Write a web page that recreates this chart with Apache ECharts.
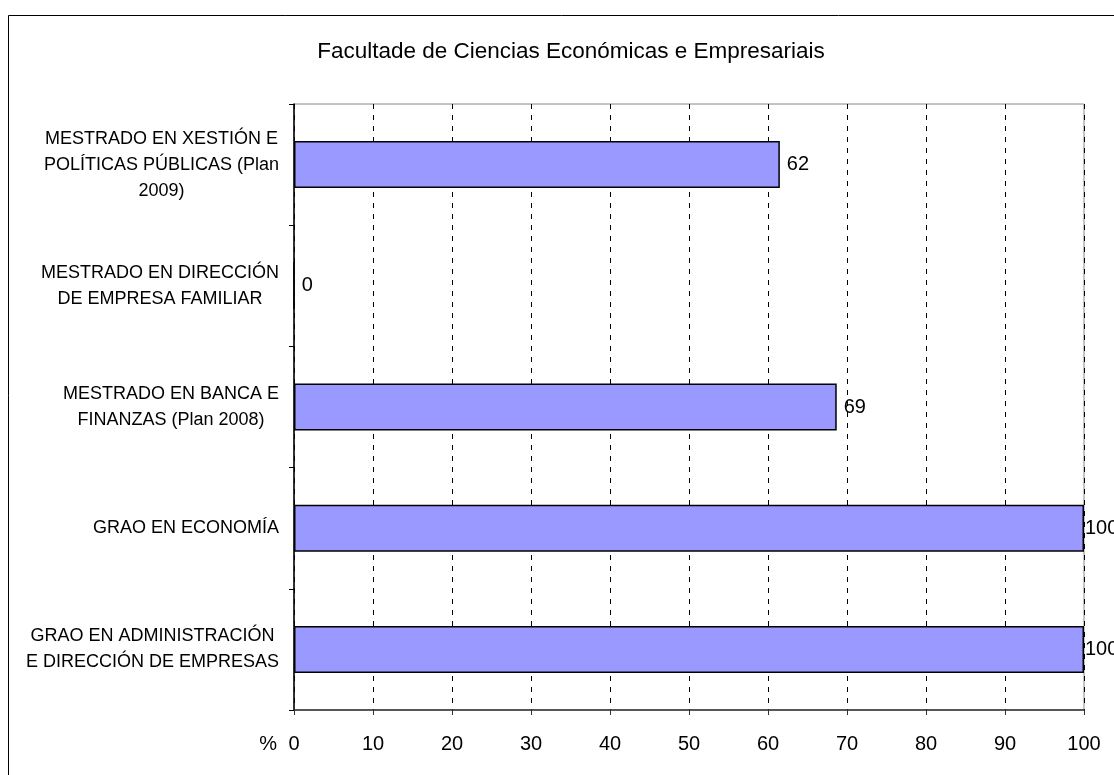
<!DOCTYPE html>
<html>
<head>
<meta charset="utf-8">
<script src="https://cdn.jsdelivr.net/npm/echarts@6/dist/echarts.min.js"></script>
<style>
  html, body { margin: 0; padding: 0; background: #fff; }
  #chart { width: 1114px; height: 775px; }
</style>
</head>
<body>
<div id="chart"></div>
<script>
// categories from bottom to top
var categories = [
  'GRAO EN ADMINISTRACIÓN\nE DIRECCIÓN DE EMPRESAS',
  'GRAO EN ECONOMÍA',
  'MESTRADO EN BANCA E\nFINANZAS (Plan 2008)',
  'MESTRADO EN DIRECCIÓN\nDE EMPRESA FAMILIAR',
  'MESTRADO EN XESTIÓN E\nPOLÍTICAS PÚBLICAS (Plan\n2009)'
]
var values = [100, 100, 68.7, 0, 61.5]
var xTicks = [0, 10, 20, 30, 40, 50, 60, 70, 80, 90, 100]
var titleText = 'Facultade de Ciencias Económicas e Empresariais'

var font = 'Liberation Sans, Arial, sans-serif'
var chart = echarts.init(document.getElementById('chart'))

// labels of full bars sit tight against the plot edge
var barData = values.map(function (v) {
  return v >= 100 ? { value: v, label: { distance: 1 } } : v
})

chart.setOption({
  animation: false,
  title: {
    text: titleText,
    left: 566,
    textAlign: 'center',
    top: 35,
    textStyle: { fontFamily: font, fontSize: 22.5, fontWeight: 'normal', color: '#000' }
  },
  graphic: [{
    type: 'rect',
    shape: { x: 8.5, y: 15.5, width: 2000, height: 2000 },
    style: { fill: 'none', stroke: '#000', lineWidth: 1 }
  }],
  grid: {
    left: 294, right: 30, top: 104, bottom: 65,
    show: true, borderColor: '#888', borderWidth: 1
  },
  xAxis: {
    type: 'value',
    min: xTicks[0],
    max: xTicks[xTicks.length - 1],
    interval: 10,
    name: '%',
    nameLocation: 'start',
    nameGap: 17,
    nameTextStyle: { fontFamily: font, fontSize: 20, color: '#000', verticalAlign: 'top', padding: [24, 0, 0, 0] },
    axisLine: { show: true, lineStyle: { color: '#333', width: 1.5 } },
    axisTick: { show: true, length: 5, lineStyle: { color: '#333' } },
    axisLabel: { fontFamily: font, fontSize: 20, color: '#000', margin: 24 },
    splitLine: { show: true, lineStyle: { color: '#000', type: [5, 6], width: 1 } }
  },
  yAxis: {
    type: 'category',
    data: categories,
    axisLine: { show: true, lineStyle: { color: '#000', width: 1.5 } },
    axisTick: { show: true, length: 5, lineStyle: { color: '#000' } },
    axisLabel: {
      margin: 15,
      formatter: function (v) {
        return v.split('\n').map(function (l) { return '{c|' + l + '}' }).join('\n')
      },
      rich: {
        c: { align: 'center', fontFamily: font, fontSize: 18, color: '#000', lineHeight: 26 }
      }
    },
    splitLine: { show: false }
  },
  series: [{
    type: 'bar',
    data: barData,
    barWidth: 47,
    itemStyle: { color: '#9999ff', borderColor: '#000', borderWidth: 1.5 },
    label: {
      show: true,
      position: 'right',
      distance: 7,
      fontFamily: font,
      fontSize: 20,
      color: '#000',
      formatter: function (p) { return Math.round(p.value) }
    }
  }]
})
</script>
</body>
</html>
